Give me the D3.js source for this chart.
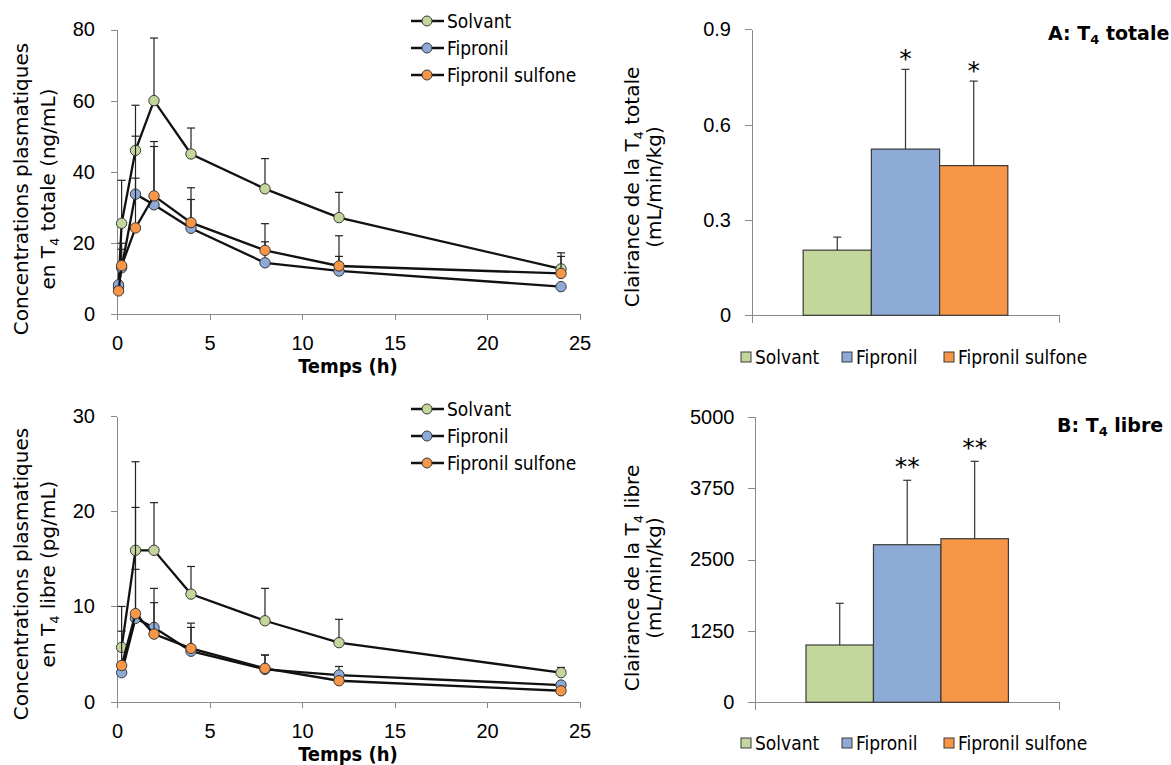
<!DOCTYPE html>
<html>
<head>
<meta charset="utf-8">
<script src="https://cdn.jsdelivr.net/npm/d3@7"></script>
<style>
  body { margin: 0; background: #fff; }
  svg { font-family: "DejaVu Sans Condensed", "DejaVu Sans", sans-serif; }
  .axis path, .axis line { stroke: #898989; stroke-width: 1; shape-rendering: crispEdges; }
  .axis text { fill: #000; font-size: 20px; }
</style>
</head>
<body>
<svg id="chart" width="1171" height="765"></svg>
<script>
// groups and colours
const groups = ["Solvant", "Fipronil", "Fipronil sulfone"];
const fills = ["#c3d69b", "#8eaad6", "#f79646"];

// T4 totale, concentration vs time (ng/mL)
const timesTot = [0.083, 0.25, 1, 2, 4, 8, 12, 24];
const solvantTot = [7.5, 25.5, 46.0, 60.0, 45.0, 35.2, 27.1, 12.7];
const solvantTotSD = [0, 12.1, 12.7, 17.6, 7.3, 8.5, 7.1, 4.5];
const fipronilTot = [8.2, 13.0, 33.7, 30.7, 24.1, 14.4, 12.1, 7.7];
const fipronilTotSD = [0, 5.2, 16.3, 16.4, 8.1, 5.9, 4.1, 0];
const sulfoneTot = [6.5, 13.6, 24.2, 33.2, 25.7, 17.9, 13.5, 11.4];
const sulfoneTotSD = [0, 6.3, 14.0, 15.3, 9.8, 7.5, 8.5, 4.8];

// T4 libre, concentration vs time (pg/mL)
const timesLib = [0.25, 1, 2, 4, 8, 12, 24];
const solvantLib = [5.7, 15.9, 15.9, 11.3, 8.5, 6.2, 3.05];
const solvantLibSD = [4.3, 9.3, 5.0, 2.9, 3.4, 2.45, 0.55];
const fipronilLib = [3.05, 8.75, 7.8, 5.3, 3.4, 2.8, 1.75];
const fipronilLibSD = [0, 5.15, 4.1, 2.5, 1.5, 0.9, 0];
const sulfoneLib = [3.8, 9.25, 7.1, 5.6, 3.5, 2.2, 1.15];
const sulfoneLibSD = [3.6, 11.15, 3.3, 2.65, 1.4, 0, 0];

// clearances (mL/min/kg)
const clearanceTot = [0.205, 0.523, 0.471];
const clearanceTotSD = [0.041, 0.251, 0.266];
const clearanceLib = [1003, 2759, 2864];
const clearanceLibSD = [730, 1128, 1355];
const starsTot = ["", "*", "*"];
const starsLib = ["", "**", "**"];

// tick labels
const ticksTime = [0, 5, 10, 15, 20, 25];
const ticksConcTot = [0, 20, 40, 60, 80];
const ticksConcLib = [0, 10, 20, 30];
const ticksClearTot = [0, 0.3, 0.6, 0.9];
const ticksClearLib = [0, 1250, 2500, 3750, 5000];

const svg = d3.select("#chart");

// rotated two-line title with a subscript 4
function yTitle(cy, lines, size, family) {
  lines.forEach(parts => {
    const t = svg.append("text")
      .attr("transform", `translate(${parts.x},${cy}) rotate(-90)`)
      .attr("text-anchor", "middle")
      .style("font-size", size + "px")
      .style("font-family", family);
    parts.text.forEach(p => {
      if (p.sub) {
        t.append("tspan").attr("dy", 4).style("font-size", (size * 0.65) + "px").text(p.sub);
        t.append("tspan").attr("dy", -4).text(p.after || "");
      } else {
        t.append("tspan").text(p.t);
      }
    });
  });
}

function drawLineChart(cfg) {
  const x = d3.scaleLinear().domain([0, 25]).range([cfg.left, cfg.right]);
  const y = d3.scaleLinear().domain([0, cfg.ymax]).range([cfg.bottom, cfg.top]);

  svg.append("g").attr("class", "axis")
    .attr("transform", `translate(0,${cfg.bottom})`)
    .call(d3.axisBottom(x).tickValues(ticksTime).tickSize(6).tickSizeOuter(0).tickPadding(16));

  svg.append("g").attr("class", "axis")
    .attr("transform", `translate(${cfg.left},0)`)
    .call(d3.axisLeft(y).tickValues(cfg.ticks).tickSize(6).tickSizeOuter(0).tickPadding(16));

  svg.append("text")
    .attr("x", 348)
    .attr("y", cfg.xTitleY)
    .attr("text-anchor", "middle")
    .style("font-size", "20px")
    .style("font-weight", "bold")
    .text("Temps (h)");

  cfg.series.forEach((s, k) => {
    const pts = cfg.times.map((t, i) => ({ t: t, v: s.values[i], sd: s.sd[i] }));
    const g = svg.append("g");

    // upper error bars
    pts.filter(d => d.sd > 0).forEach(d => {
      g.append("line")
        .attr("x1", x(d.t)).attr("x2", x(d.t))
        .attr("y1", y(d.v)).attr("y2", y(d.v + d.sd))
        .attr("stroke", "#222").attr("stroke-width", 1.2);
      g.append("line")
        .attr("x1", x(d.t) - 4).attr("x2", x(d.t) + 4)
        .attr("y1", y(d.v + d.sd)).attr("y2", y(d.v + d.sd))
        .attr("stroke", "#222").attr("stroke-width", 1.2);
    });

    g.append("path")
      .datum(pts)
      .attr("fill", "none")
      .attr("stroke", "#111")
      .attr("stroke-width", 2.3)
      .attr("d", d3.line().x(d => x(d.t)).y(d => y(d.v)));

    g.selectAll("circle")
      .data(pts)
      .join("circle")
      .attr("cx", d => x(d.t))
      .attr("cy", d => y(d.v))
      .attr("r", 5.2)
      .attr("fill", fills[k])
      .attr("stroke", "#3a3a3a")
      .attr("stroke-width", 1);
  });

  // legend
  groups.forEach((name, k) => {
    const ly = cfg.legendY + k * 27;
    svg.append("line")
      .attr("x1", 411).attr("x2", 444)
      .attr("y1", ly).attr("y2", ly)
      .attr("stroke", "#111").attr("stroke-width", 2.3);
    svg.append("circle")
      .attr("cx", 427).attr("cy", ly).attr("r", 5)
      .attr("fill", fills[k]).attr("stroke", "#3a3a3a");
    svg.append("text")
      .attr("x", 447).attr("y", ly + 7)
      .style("font-size", "19px")
      .text(name);
  });

  yTitle(cfg.titleY, [
    { x: 28, text: [{ t: "Concentrations plasmatiques" }] },
    { x: 55, text: [{ t: "en T" }, { sub: "4", after: cfg.titleEnd }] }
  ], 20, "DejaVu Sans");
}

function drawBarChart(cfg) {
  const y = d3.scaleLinear().domain([0, cfg.ymax]).range([cfg.bottom, cfg.top]);
  const x0 = d3.scaleBand().domain(["g"]).range([cfg.left, cfg.right])
    .paddingInner(0).paddingOuter(0.25);
  const x1 = d3.scaleBand().domain(groups).range([0, x0.bandwidth()]);

  svg.append("g").attr("class", "axis")
    .attr("transform", `translate(${cfg.left},0)`)
    .call(d3.axisLeft(y).tickValues(cfg.ticks).tickFormat(cfg.format)
      .tickSize(7).tickSizeOuter(0).tickPadding(14));

  svg.append("g").attr("class", "axis")
    .attr("transform", `translate(0,${cfg.bottom})`)
    .call(d3.axisBottom(x0).tickValues([]).tickSizeOuter(8));

  const g = svg.append("g").attr("transform", `translate(${x0("g")},0)`);

  groups.forEach((name, k) => {
    const v = cfg.values[k], sd = cfg.sd[k];
    const cx = x1(name) + x1.bandwidth() / 2;
    g.append("rect")
      .attr("x", x1(name))
      .attr("y", y(v))
      .attr("width", x1.bandwidth())
      .attr("height", y(0) - y(v))
      .attr("fill", fills[k])
      .attr("stroke", "#3a3a3a")
      .attr("stroke-width", 1.2);
    g.append("line")
      .attr("x1", cx).attr("x2", cx)
      .attr("y1", y(v)).attr("y2", y(v + sd))
      .attr("stroke", "#333").attr("stroke-width", 1.2);
    g.append("line")
      .attr("x1", cx - 4).attr("x2", cx + 4)
      .attr("y1", y(v + sd)).attr("y2", y(v + sd))
      .attr("stroke", "#333").attr("stroke-width", 1.2);
    if (cfg.stars[k]) {
      g.append("text")
        .attr("x", cx).attr("y", y(v + sd) - cfg.starGap)
        .attr("text-anchor", "middle")
        .style("font-size", "25px")
        .style("font-family", "DejaVu Sans")
        .text(cfg.stars[k]);
    }
  });

  // legend
  const legX = [741, 842, 944];
  groups.forEach((name, k) => {
    svg.append("rect")
      .attr("x", legX[k]).attr("y", cfg.legendY - 5)
      .attr("width", 10).attr("height", 10)
      .attr("fill", fills[k]).attr("stroke", "#3a3a3a");
    svg.append("text")
      .attr("x", legX[k] + 14).attr("y", cfg.legendY + 7)
      .style("font-size", "19px")
      .text(name);
  });

  // panel label
  const lab = svg.append("text")
    .attr("x", cfg.labelX).attr("y", cfg.labelY)
    .style("font-size", "19px")
    .style("font-weight", "bold")
    .style("font-family", "DejaVu Sans");
  lab.append("tspan").text(cfg.label[0] + " T");
  lab.append("tspan").attr("dy", 4).style("font-size", "13px").text("4");
  lab.append("tspan").attr("dy", -4).text(" " + cfg.label[1]);

  yTitle(cfg.titleY, [
    { x: 639, text: [{ t: "Clairance de la T" }, { sub: "4", after: " " + cfg.label[1] }] },
    { x: 661, text: [{ t: "(mL/min/kg)" }] }
  ], 20, "DejaVu Sans");
}

drawLineChart({
  left: 117, right: 579.5, top: 29.5, bottom: 314, ymax: 80,
  ticks: ticksConcTot, times: timesTot, xTitleY: 373, legendY: 21,
  titleY: 189, titleEnd: " totale (ng/mL)",
  series: [
    { values: solvantTot, sd: solvantTotSD },
    { values: fipronilTot, sd: fipronilTotSD },
    { values: sulfoneTot, sd: sulfoneTotSD }
  ]
});

drawLineChart({
  left: 117, right: 579.5, top: 416, bottom: 701.7, ymax: 30,
  ticks: ticksConcLib, times: timesLib, xTitleY: 761, legendY: 409,
  titleY: 574, titleEnd: " libre (pg/mL)",
  series: [
    { values: solvantLib, sd: solvantLibSD },
    { values: fipronilLib, sd: fipronilLibSD },
    { values: sulfoneLib, sd: sulfoneLibSD }
  ]
});

drawBarChart({
  left: 752, right: 1059, top: 29.3, bottom: 315.3, ymax: 0.9,
  ticks: ticksClearTot, format: d => d === 0 ? "0" : d3.format(".1f")(d),
  values: clearanceTot, sd: clearanceTotSD, stars: starsTot, starGap: 2,
  legendY: 357, label: ["A:", "totale"], labelX: 1048, labelY: 40, titleY: 187
});

drawBarChart({
  left: 755.4, right: 1059, top: 416.7, bottom: 702.3, ymax: 5000,
  ticks: ticksClearLib, format: d3.format("d"),
  values: clearanceLib, sd: clearanceLibSD, stars: starsLib, starGap: 5,
  legendY: 743, label: ["B:", "libre"], labelX: 1057, labelY: 432, titleY: 578
});
</script>
</body>
</html>
